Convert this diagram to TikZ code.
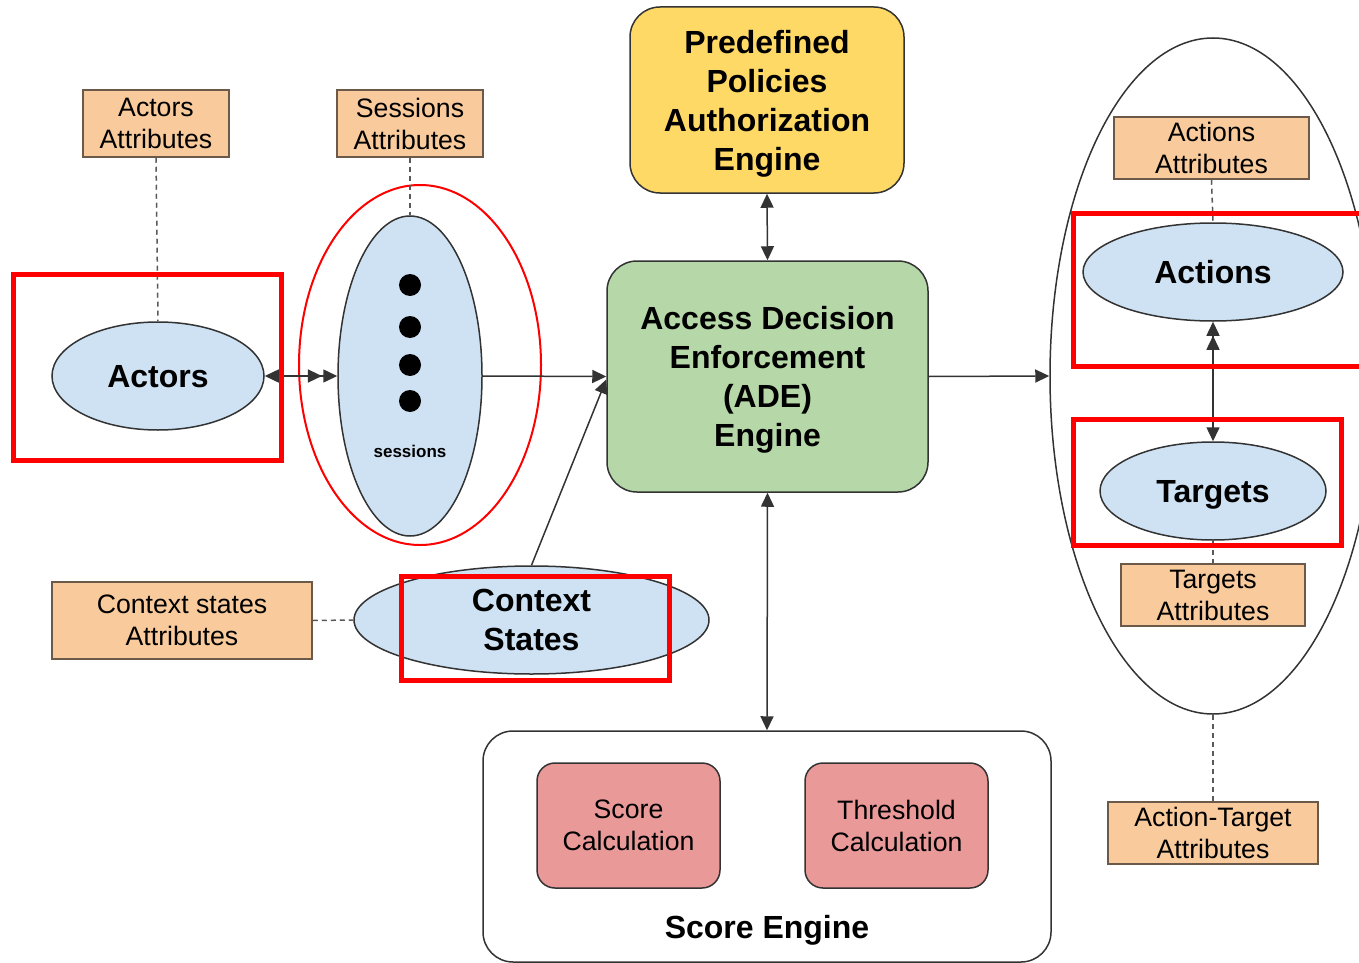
\documentclass[tikz,border=0pt]{standalone}
\usepackage{fontspec}
\setmainfont{Liberation Sans}
\usetikzlibrary{shapes.geometric,arrows.meta}

\newdimen\pxu \pxu=0.75pt

\definecolor{attrfill}{HTML}{F9CB9C}
\definecolor{attrline}{HTML}{6B5A4A}
\definecolor{ovalfill}{HTML}{CFE2F3}
\definecolor{yellowfill}{HTML}{FFD966}
\definecolor{greenfill}{HTML}{B6D7A8}
\definecolor{redfill}{HTML}{EA9999}
\definecolor{outline}{HTML}{333333}
\definecolor{hl}{HTML}{FF0000}

\newcommand{\regtext}{\fontsize{20}{24}\selectfont}
\newcommand{\boldtext}{\fontsize{24}{29.25}\selectfont\bfseries}

\tikzset{
  txt/.style={text depth=0pt},
  attrbox/.style={text depth=-3\pxu, draw=attrline, fill=attrfill, line width=1.5\pxu,
    rectangle, inner sep=0pt, align=center, font=\regtext},
  oval/.style={txt, draw=outline, fill=ovalfill, line width=1.5\pxu,
    ellipse, inner sep=0pt, align=center, font=\boldtext},
  roundbox/.style={txt, draw=outline, line width=1.5\pxu, rectangle,
    rounded corners=30\pxu, inner sep=0pt, align=center, font=\boldtext},
  calcbox/.style={txt, draw=outline, fill=redfill, line width=1.5\pxu, rectangle,
    rounded corners=18\pxu, inner sep=0pt, align=center, font=\regtext},
  link/.style={draw=outline, line width=1.5\pxu,
    >={Triangle[length=10.5pt, width=9.75pt]}},
  dashlink/.style={draw=black!65, line width=1.5\pxu,
    dash pattern=on 5\pxu off 4\pxu},
  hlbox/.style={draw=hl, line width=5\pxu},
}

\begin{document}
\begin{tikzpicture}[x=0.75pt, y=-0.75pt]
\useasboundingbox (0,0) rectangle (1359,963);
\clip (0,0) rectangle (1359,963);

% left side: actors and sessions
\node[attrbox, minimum width=146\pxu, minimum height=67\pxu] (actattrs) at (156,123.5) {Actors\\Attributes};
\node[attrbox, minimum width=146\pxu, minimum height=67\pxu] (sessattrs) at (410,123.5) {Sessions\\Attributes};
\node[oval, minimum width=212\pxu, minimum height=108\pxu] (actors) at (158,376) {Actors};
\node[oval, minimum width=144\pxu, minimum height=320\pxu] (sess) at (410,376) {};
\draw[hl, line width=2\pxu] (420,365) ellipse [x radius=121, y radius=180];
\foreach \yy in {285,327,365,401} \fill (410,\yy) circle [radius=11];
\node[font=\fontsize{12.75}{15}\selectfont\bfseries] (sesslabel) at (410,451) {sessions};

% context states
\node[attrbox, minimum width=260\pxu, minimum height=77\pxu] (ctxattrs) at (182,620.5) {Context states\\Attributes};
\node[oval, minimum width=355\pxu, minimum height=108\pxu] (ctx) at (531.5,620) {Context\\States};

% centre: engines
\node[roundbox, fill=yellowfill, minimum width=274\pxu, minimum height=186\pxu] (pdp) at (767,100) {Predefined\\Policies\\Authorization\\Engine};
\node[roundbox, fill=greenfill, minimum width=321\pxu, minimum height=231\pxu] (ade) at (767.5,376.5) {Access Decision\\Enforcement\\(ADE)\\Engine};
\node[roundbox, fill=white, minimum width=568\pxu, minimum height=231\pxu] (score) at (767,846.5) {};
\node[txt, font=\boldtext] (scorelabel) at (767,927) {Score Engine};
\node[calcbox, minimum width=183\pxu, minimum height=125\pxu] (scalc) at (628.5,825.5) {Score\\Calculation};
\node[calcbox, minimum width=183\pxu, minimum height=125\pxu] (tcalc) at (896.5,825.5) {Threshold\\Calculation};

% right side: actions and targets
\node[draw=outline, line width=1.5\pxu, ellipse, inner sep=0pt, minimum width=326\pxu, minimum height=676\pxu] (group) at (1213,376) {};
\node[attrbox, minimum width=195\pxu, minimum height=62\pxu] (actnattrs) at (1211.5,148) {Actions\\Attributes};
\node[oval, minimum width=260\pxu, minimum height=98\pxu] (actions) at (1213,272) {Actions};
\node[oval, minimum width=226\pxu, minimum height=98\pxu] (targets) at (1213,491) {Targets};
\node[attrbox, minimum width=184\pxu, minimum height=62\pxu] (tgtattrs) at (1213,595) {Targets\\Attributes};
\node[attrbox, minimum width=210\pxu, minimum height=62\pxu] (atattrs) at (1213,833) {Action-Target\\Attributes};

% attribute links
\draw[dashlink] (actattrs.south) -- (actors.north);
\draw[dashlink] (sessattrs.south) -- (sess.north);
\draw[dashlink] (ctxattrs.east) -- (ctx.west);
\draw[dashlink] (actnattrs.south) -- (actions.north);
\draw[dashlink] (targets.south) -- (tgtattrs.north);
\draw[dashlink] (group.south) -- (atattrs.north);

% flow connectors
\draw[link, {Triangle[length=10.5pt, width=9.75pt]}-{Triangle[length=10.5pt, width=9.75pt, sep=1pt] Triangle[length=10.5pt, width=9.75pt]}] (actors.east) -- (sess.west);
\draw[link, ->] (sess.east) -- (ade.west);
\draw[link, ->] (ctx.north) -- ([yshift=-3\pxu]ade.west);
\draw[link, <->] (pdp.south) -- (ade.north);
\draw[link, <->] (ade.south) -- (score.north);
\draw[link, ->] (ade.east) -- (group.west);
\draw[link, {Triangle[length=10.5pt, width=9.75pt] Triangle[length=10.5pt, width=9.75pt]}-{Triangle[length=10.5pt, width=9.75pt]}] (actions.south) -- (targets.north);

% highlight frames
\draw[hlbox] (13,274) rectangle (281,460);
\draw[hlbox] (401,576) rectangle (669,680);
\draw[hlbox] (1073,213) rectangle (1375,366);
\draw[hlbox] (1073,419) rectangle (1341,545);
\end{tikzpicture}
\end{document}
